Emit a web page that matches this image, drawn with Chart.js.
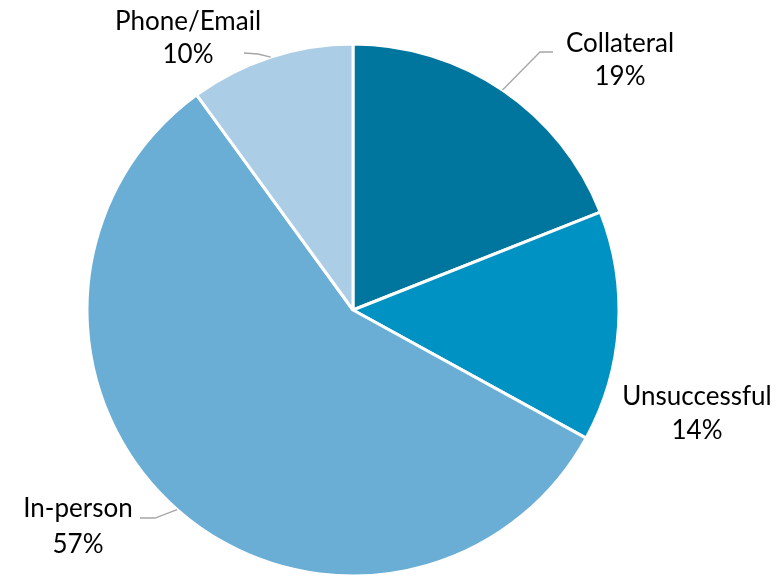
<!DOCTYPE html>
<html><head><meta charset="utf-8">
<script src="https://cdn.jsdelivr.net/npm/chart.js@4/dist/chart.umd.min.js"></script>
<style>html,body{margin:0;padding:0;background:#fff}#wrap{width:780px;height:576px}</style>
</head><body><div id="wrap"><canvas id="c" width="780" height="576"></canvas></div>
<script>
const categories = ['Collateral', 'Unsuccessful', 'In-person', 'Phone/Email'];
const values = [19, 14, 57, 10];
const percentLabels = ['19%', '14%', '57%', '10%'];
const colors = ['#00769F', '#0092C2', '#6AAED6', '#ABCDE5'];

// label layout (center of two-line label) and leader elbow points
const labelPos = [
  {x: 620, y1: 44, y2: 77, leader: [[540, 52], [553, 52]]},
  {x: 697, y1: 397, y2: 431, leader: null},
  {x: 78, y1: 509, y2: 545, leader: [[155, 518], [140, 518]]},
  {x: 188, y1: 22, y2: 55, leader: [[258, 54], [244, 53]]}
];

const labelPlugin = {
  id: 'labels',
  afterDatasetsDraw(chart) {
    const ctx = chart.ctx;
    const meta = chart.getDatasetMeta(0);
    ctx.save();
    meta.data.forEach((arc, i) => {
      const p = labelPos[i];
      if (p.leader) {
        const mid = (arc.startAngle + arc.endAngle) / 2;
        const sx = arc.x + Math.cos(mid) * arc.outerRadius;
        const sy = arc.y + Math.sin(mid) * arc.outerRadius;
        ctx.beginPath();
        ctx.strokeStyle = '#A6A6A6';
        ctx.lineWidth = 1.3;
        ctx.moveTo(sx, sy);
        p.leader.forEach(pt => ctx.lineTo(pt[0], pt[1]));
        ctx.stroke();
      }
      ctx.fillStyle = '#000';
      ctx.font = '26px Lato, "Open Sans", sans-serif';
      ctx.textAlign = 'center';
      ctx.textBaseline = 'middle';
      ctx.fillText(categories[i], p.x, p.y1);
      ctx.fillText(percentLabels[i], p.x, p.y2);
    });
    ctx.restore();
  }
};

new Chart(document.getElementById('c'), {
  type: 'pie',
  data: {
    labels: categories,
    datasets: [{
      data: values,
      backgroundColor: colors,
      borderColor: '#ffffff',
      borderWidth: 3
    }]
  },
  options: {
    responsive: false,
    animation: false,
    radius: 266,
    layout: {padding: {top: 44, bottom: -6, left: 0, right: 74}},
    plugins: {legend: {display: false}, tooltip: {enabled: false}}
  },
  plugins: [labelPlugin]
});
</script></body></html>
